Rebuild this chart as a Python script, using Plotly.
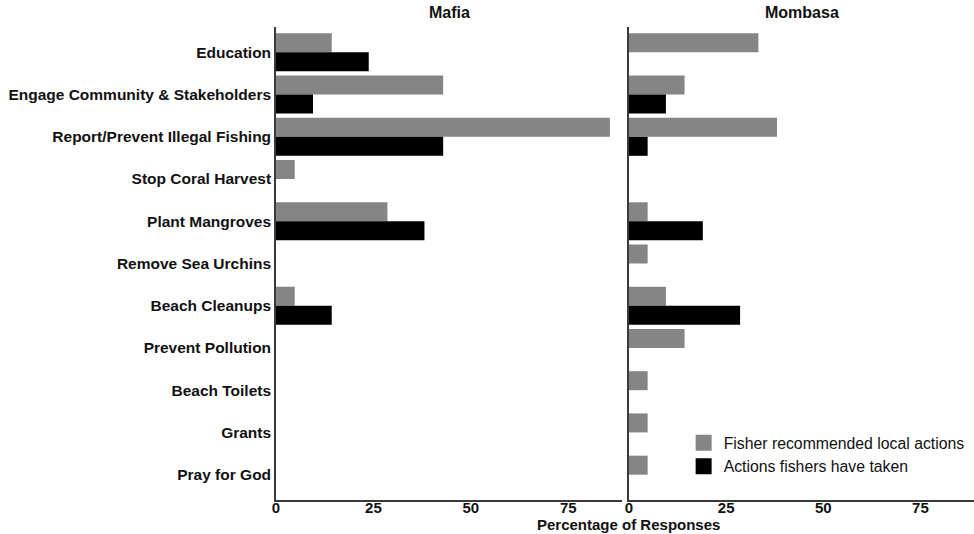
import plotly.graph_objects as go

categories = ["Education", "Engage Community & Stakeholders", "Report/Prevent Illegal Fishing",
              "Stop Coral Harvest", "Plant Mangroves", "Remove Sea Urchins", "Beach Cleanups",
              "Prevent Pollution", "Beach Toilets", "Grants", "Pray for God"]

mafia_recommended = [14.3, 42.9, 85.7, 4.8, 28.6, None, 4.8, None, None, None, None]
mafia_taken = [23.8, 9.5, 42.9, None, 38.1, None, 14.3, None, None, None, None]
mombasa_recommended = [33.3, 14.3, 38.1, None, 4.8, 4.8, 9.5, 14.3, 4.8, 4.8, 4.8]
mombasa_taken = [None, 9.5, 4.8, None, 19.0, None, 28.6, None, None, None, None]

panel_titles = ["Mafia", "Mombasa"]
series_names = ["Fisher recommended local actions", "Actions fishers have taken"]
x_ticks = [0, 25, 50, 75]

GRAY = "#858585"
BLACK = "#000000"
FONT = "Liberation Sans, Arial, Helvetica, sans-serif"
TXT = "#111111"
AX = "#3a3a3a"

fig = go.Figure()
for vals, color, xa, ya in [
    (mafia_recommended, GRAY, "x", "y"),
    (mafia_taken, BLACK, "x", "y"),
    (mombasa_recommended, GRAY, "x2", "y2"),
    (mombasa_taken, BLACK, "x2", "y2"),
]:
    fig.add_trace(go.Bar(
        x=vals, y=categories, orientation="h",
        marker=dict(color=color, line=dict(width=0)),
        xaxis=xa, yaxis=ya, showlegend=False, hoverinfo="x+y",
    ))

# legend entries
for name, color in zip(series_names, [GRAY, BLACK]):
    fig.add_trace(go.Scatter(
        x=[None], y=[None], mode="markers", name=name,
        marker=dict(symbol="square", size=16, color=color),
        xaxis="x", yaxis="y", showlegend=True,
    ))

xrange = [0, 88.8]
yrange = [10.6, -0.6]

axis_common = dict(
    showgrid=False, zeroline=False, showline=True, linecolor=AX, linewidth=1.6,
    ticks="", tickfont=dict(family=FONT, size=15, color=TXT, weight="bold"),
)

fig.update_layout(
    width=974, height=534,
    margin=dict(l=276, r=0, t=27, b=34),
    plot_bgcolor="white", paper_bgcolor="white",
    barmode="group", bargap=0.1, bargroupgap=0,
    font=dict(family=FONT, color=TXT),
    xaxis=dict(domain=[0, 346 / 698], range=xrange, tickvals=x_ticks,
               ticklabelstandoff=-7, **axis_common),
    xaxis2=dict(domain=[353 / 698, 1], range=xrange, tickvals=x_ticks, anchor="y2",
                ticklabelstandoff=-7, **axis_common),
    yaxis=dict(range=yrange, type="category", categoryorder="array", categoryarray=categories,
               ticklabelstandoff=0, **axis_common),
    yaxis2=dict(range=yrange, type="category", categoryorder="array", categoryarray=categories,
                anchor="x2", showticklabels=False, **axis_common),
    legend=dict(x=0.584, y=0.034, xanchor="left", yanchor="bottom",
                font=dict(family=FONT, size=15.8, color=TXT), traceorder="normal",
                bgcolor="rgba(0,0,0,0)", tracegroupgap=0),
    showlegend=True,
)
fig.update_yaxes(tickfont=dict(size=15.5))

annotations = [
    dict(text="<b>" + panel_titles[0] + "</b>", x=(0 + 346 / 698) / 2, y=1.0317,
         xref="paper", yref="paper", showarrow=False, font=dict(family=FONT, size=16, color=TXT),
         xanchor="center", yanchor="middle"),
    dict(text="<b>" + panel_titles[1] + "</b>", x=(353 / 698 + 1) / 2, y=1.0317,
         xref="paper", yref="paper", showarrow=False, font=dict(family=FONT, size=16, color=TXT),
         xanchor="center", yanchor="middle"),
    dict(text="<b>Percentage of Responses</b>", x=(628 - 276) / 698, y=-0.051,
         xref="paper", yref="paper", showarrow=False, font=dict(family=FONT, size=15, color=TXT),
         xanchor="center", yanchor="middle"),
]
fig.update_layout(annotations=annotations)

fig.write_html("out.html", config={"displayModeBar": False},
               post_script="document.body.style.margin='0';document.body.style.overflow='hidden';")
